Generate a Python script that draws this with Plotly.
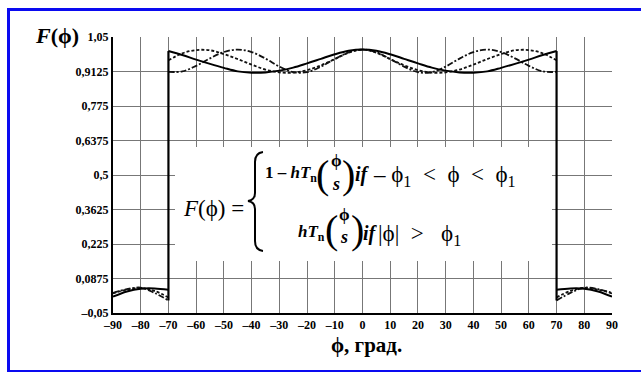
import plotly.graph_objects as go

# ---------------- data ----------------
phi_main = [-70, -65, -60, -55, -50, -45, -40, -35, -30, -25, -20, -15, -10, -5, 0,
            5, 10, 15, 20, 25, 30, 35, 40, 45, 50, 55, 60, 65, 70]
solid_main = [0.994, 0.978, 0.960, 0.943, 0.927, 0.913, 0.908, 0.909, 0.916, 0.928, 0.945, 0.963, 0.981, 0.995, 1.000,
              0.995, 0.981, 0.963, 0.945, 0.928, 0.916, 0.909, 0.908, 0.913, 0.927, 0.943, 0.960, 0.978, 0.994]
dash_main = [0.957, 0.985, 0.998, 0.997, 0.982, 0.962, 0.940, 0.920, 0.909, 0.908, 0.918, 0.937, 0.962, 0.987, 1.000,
             0.987, 0.962, 0.937, 0.918, 0.908, 0.909, 0.920, 0.940, 0.962, 0.982, 0.997, 0.998, 0.985, 0.957]
dashdot_main = [0.911, 0.913, 0.935, 0.965, 0.990, 1.000, 0.990, 0.964, 0.932, 0.910, 0.910, 0.932, 0.962, 0.989, 1.000,
                0.989, 0.962, 0.932, 0.910, 0.910, 0.932, 0.964, 0.990, 1.000, 0.990, 0.965, 0.935, 0.913, 0.911]

phi_left = [-90, -85, -80, -75, -70]
phi_right = [70, 75, 80, 85, 90]
solid_left = [0.015, 0.036, 0.047, 0.048, 0.043]
solid_right = [0.043, 0.048, 0.047, 0.036, 0.015]
dash_left = [0.028, 0.043, 0.050, 0.038, 0.012]
dash_right = [0.012, 0.038, 0.050, 0.043, 0.028]
dashdot_left = [0.030, 0.045, 0.051, 0.030, 0.000]
dashdot_right = [0.000, 0.030, 0.051, 0.045, 0.030]

x_ticks = [-90, -80, -70, -60, -50, -40, -30, -20, -10, 0, 10, 20, 30, 40, 50, 60, 70, 80, 90]
x_ticklabels = ["–90", "–80", "–70", "–60", "–50", "–40", "–30", "–20", "–10", "0",
                "10", "20", "30", "40", "50", "60", "70", "80", "90"]
y_ticks = [-0.05, 0.0875, 0.225, 0.3625, 0.5, 0.6375, 0.775, 0.9125, 1.05]
y_ticklabels = ["–0,05", "0,0875", "0,225", "0,3625", "0,5", "0,6375", "0,775", "0,9125", "1,05"]

# ---------------- layout geometry ----------------
W_FIG, H_FIG = 641, 372
L, R, T, B = 113, 29, 37, 59
PW, PH = W_FIG - L - R, H_FIG - T - B
SERIF = "Liberation Serif"


def PX(x):
    return (x - L) / PW


def PY(y):
    return (T + PH - y) / PH


def join(left, main, right):
    return list(left) + [None] + list(main) + [None] + list(right)


fig = go.Figure()
xs = join(phi_left, phi_main, phi_right)
fig.add_trace(go.Scatter(x=xs, y=join(dashdot_left, dashdot_main, dashdot_right), mode="lines",
                         line=dict(color="#111111", width=1.8, dash="6px,2px,2px,2px", shape="spline"),
                         connectgaps=False, showlegend=False, hoverinfo="skip"))
fig.add_trace(go.Scatter(x=xs, y=join(dash_left, dash_main, dash_right), mode="lines",
                         line=dict(color="#111111", width=1.8, dash="3px,2px", shape="spline"),
                         connectgaps=False, showlegend=False, hoverinfo="skip"))
fig.add_trace(go.Scatter(x=xs, y=join(solid_left, solid_main, solid_right), mode="lines",
                         line=dict(color="#000000", width=2, shape="spline"),
                         connectgaps=False, showlegend=False, hoverinfo="skip"))
# vertical jumps of the solid curve at the edges of the main lobe
lo_l = min(solid_left[-1], dash_left[-1], dashdot_left[-1])
lo_r = min(solid_right[0], dash_right[0], dashdot_right[0])
fig.add_trace(go.Scatter(x=[phi_main[0], phi_main[0], None, phi_main[-1], phi_main[-1]],
                         y=[lo_l, solid_main[0], None, solid_main[-1], lo_r], mode="lines",
                         line=dict(color="#000000", width=2.2), showlegend=False, hoverinfo="skip"))

ann = []


def txt(text, x, y, size, xanchor="center", yanchor="middle"):
    ann.append(dict(text=text, x=PX(x), y=PY(y), xref="paper", yref="paper", showarrow=False,
                    xanchor=xanchor, yanchor=yanchor, font=dict(family=SERIF, size=size, color="black")))


NB = "\u00a0"
# axis titles
txt("<b><i>F</i>(ϕ)</b>", 57, 36, 22)
txt("<b>ϕ, град.</b>", 366, 345, 21)
# equation
txt("<i>F</i>(ϕ) =", 181, 208, 23, xanchor="left")
# line 1
txt("<b>1 – <i>hT</i><sub>n</sub></b>", 263, 174, 17, xanchor="left")
txt("(", 322, 174, 40)
txt("<b>ϕ</b>", 336, 160, 17)
txt("<b><i>s</i></b>", 336, 184, 18)
txt(")", 348, 174, 40)
txt("<b><i>if</i></b>", 353, 174, 20, xanchor="left")
txt("– ϕ<sub>1</sub>" + NB * 2 + "<" + NB * 2 + "ϕ" + NB * 2 + "<" + NB * 2 + "ϕ<sub>1</sub>", 371, 176, 23,
    xanchor="left")
# line 2
txt("<b><i>hT</i><sub>n</sub></b>", 296, 233, 17, xanchor="left")
txt("(", 331, 229, 40)
txt("<b>ϕ</b>", 344, 214, 17)
txt("<b><i>s</i></b>", 344, 237, 18)
txt(")", 357, 229, 40)
txt("<b><i>if</i></b>", 361, 233, 20, xanchor="left")
txt("|ϕ|" + NB * 2 + ">" + NB * 3 + "ϕ<sub>1</sub>", 376, 235, 23, xanchor="left")


def pp(x, y):
    return f"{PX(x):.5f},{PY(y):.5f}"


brace = ("M " + pp(263, 152) + " Q " + pp(255, 153) + " " + pp(255, 162) + " L " + pp(255, 193) +
         " Q " + pp(255, 200) + " " + pp(248, 201) + " Q " + pp(255, 202) + " " + pp(255, 209) +
         " L " + pp(255, 241) + " Q " + pp(255, 250) + " " + pp(263, 251))


def dx(px_):
    return x_ticks[0] + (px_ - L) / PW * (x_ticks[-1] - x_ticks[0])


def dy(py_):
    return y_ticks[-1] - (py_ - T) / PH * (y_ticks[-1] - y_ticks[0])


shapes = [
    # white box behind the formula (hides grid)
    dict(type="rect", xref="x", yref="y", x0=dx(175), x1=dx(552), y0=dy(261), y1=dy(147),
         fillcolor="white", line=dict(width=0), layer="between"),
    dict(type="path", xref="paper", yref="paper", path=brace, line=dict(color="black", width=2)),
    # blue frame
    dict(type="rect", xref="paper", yref="paper", x0=PX(8.5), x1=PX(660), y0=PY(371.5), y1=PY(9.5),
         line=dict(color="#0a0af0", width=3), fillcolor="rgba(0,0,0,0)"),
]

fig.update_layout(
    width=W_FIG, height=H_FIG,
    margin=dict(l=L, r=R, t=T, b=B, pad=0),
    paper_bgcolor="white", plot_bgcolor="white",
    font=dict(family=SERIF, size=12, color="black"),
    xaxis=dict(range=[x_ticks[0], x_ticks[-1]], tickmode="array", tickvals=x_ticks, ticktext=x_ticklabels,
               showgrid=True, gridcolor="#777777", gridwidth=1, zeroline=False,
               showline=True, linecolor="black", linewidth=2, ticks="",
               tickfont=dict(family=SERIF, size=12, color="black", weight="bold")),
    yaxis=dict(range=[y_ticks[0], y_ticks[-1]], tickmode="array", tickvals=y_ticks, ticktext=y_ticklabels,
               showgrid=True, gridcolor="#777777", gridwidth=1, zeroline=False,
               showline=True, linecolor="black", linewidth=2, ticks="",
               tickfont=dict(family=SERIF, size=12, color="black", weight="bold")),
    annotations=ann,
    shapes=shapes,
)

fig.write_html("out.html")
